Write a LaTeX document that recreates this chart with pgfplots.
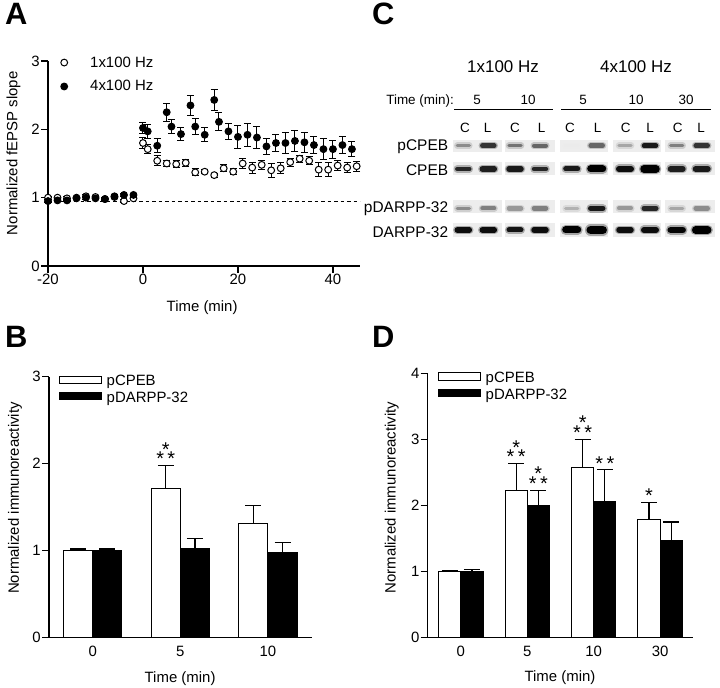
\documentclass[border=0pt]{standalone}
\usepackage{fontspec}
\setmainfont{Liberation Sans}
\usepackage{pgfplots}
\pgfplotsset{compat=1.18}
\newcommand\fs{\fontsize{15}{18}\selectfont}
\newcommand\starfont{\fontsize{20}{20}\selectfont}
\pgfplotsset{gp/.style={
  scale only axis, clip=false,
  axis x line*=bottom, axis y line*=left,
  axis line style={line width=1.2bp, -},
  every tick/.style={line width=1.2bp, black},
  tick align=outside, major tick length=7bp,
  /pgf/number format/assume math mode=true,
  tick label style={font=\fs, inner sep=1bp},
  label style={font=\fs},
}}
% blot band: x1 x2 y linewidth shade
\newcommand\band[5]{%
  \addplot[forget plot, line width=#4bp+3bp, line cap=round, draw=black!#5, opacity=0.3] coordinates {(#1,#3) (#2,#3)};
  \addplot[forget plot, line width=#4bp, line cap=round, draw=black!#5] coordinates {(#1,#3) (#2,#3)};}
\newcommand\strip[4]{%
  \addplot[forget plot, fill=black!7, draw=none] coordinates {(#1,#3) (#2,#3) (#2,#4) (#1,#4)};}
\newcommand\ctext[3]{\node[anchor=base, inner sep=0, font=\fontsize{13.5}{13.5}\selectfont] at (axis cs:#1,#2) {#3};}
% stars: x, baseline of lower row
\newcommand\twostars[2]{\node[anchor=south, align=center, inner sep=0, font=\starfont] at (axis cs:#1,#2) {*\\[-10.5bp]*\hspace{3.5bp}*};}
\newcommand\dstars[2]{\node[anchor=south, inner sep=0, font=\starfont] at (axis cs:#1,#2) {*\hspace{3.5bp}*};}
\newcommand\onestar[2]{\node[anchor=south, inner sep=0, font=\starfont] at (axis cs:#1,#2) {*};}
\pgfplotsset{errA/.style={error bars/.cd, y dir=both, y explicit, error bar style={line width=1bp, black},
  error mark options={rotate=90, line width=1bp, mark size=3.5bp, black}},
  errB/.style={error bars/.cd, y dir=plus, y explicit, error bar style={line width=1.2bp, black},
  error mark options={rotate=90, line width=1.2bp, mark size=8bp, black}}}
\begin{document}
\begin{tikzpicture}
\path[use as bounding box] (0,0) rectangle (720bp,688bp);
\node[anchor=base west, inner sep=0, font=\bfseries\fontsize{31}{31}\selectfont] at (5bp,663bp) {A};
\node[anchor=base west, inner sep=0, font=\bfseries\fontsize{31}{31}\selectfont] at (5bp,340.5bp) {B};
\node[anchor=base west, inner sep=0, font=\bfseries\fontsize{31}{31}\selectfont] at (372bp,663bp) {C};
\node[anchor=base west, inner sep=0, font=\bfseries\fontsize{31}{31}\selectfont] at (372bp,340.5bp) {D};

% ---------------- Panel A
\begin{axis}[gp, at={(48bp,422bp)}, anchor=south west, width=312bp, height=205bp,
  xmin=-20, xmax=45.7, ymin=0, ymax=3, xtick={-20,0,20,40}, ytick={0,1,2,3},
  xlabel={Time (min)}, ylabel={Normalized fEPSP slope},
  xlabel style={at={(axis description cs:0.494,-0.205)}, anchor=center},
  ylabel style={at={(axis description cs:-0.1106,0.55)}, anchor=center},
  legend style={at={(axis description cs:0.0353,0.934)}, anchor=west, draw=none, fill=none,
    inner sep=0pt, row sep=10bp, font=\fs, cells={anchor=west}, nodes={inner sep=1bp}},
  legend image code/.code={\draw[#1] plot coordinates {(0bp,0bp)}; \path[draw=none,fill=none] (-5bp,0bp) -- (25bp,0bp);},
]
\addplot[forget plot, black, line width=1bp, dash pattern=on 3.5bp off 3bp] coordinates {(-20,0.95) (45.7,0.95)};
\addplot[only marks, mark=*, mark size=3.4bp, mark options={fill=white, draw=black, line width=1bp}, errA]
  table[x=x, y=y, y error=e] {
x y e
-20 1.00 0.02
-18 1.00 0.02
-16 0.99 0.02
-14 1.00 0.02
-12 1.02 0.02
-10 1.01 0.02
-8 0.98 0.02
-6 1.01 0.02
-4 0.95 0.02
-2 0.99 0.02
0 1.80 0.08
1 1.71 0.07
3 1.54 0.07
5 1.50 0.05
7 1.49 0.05
9 1.51 0.05
11 1.37 0.05
13 1.38 0.03
15 1.33 0.03
17 1.43 0.05
19 1.38 0.04
21 1.50 0.07
23 1.44 0.08
25 1.48 0.07
27 1.40 0.10
29 1.43 0.08
31 1.52 0.06
33 1.57 0.05
35 1.54 0.06
37 1.41 0.10
39 1.41 0.10
41 1.47 0.07
43 1.44 0.07
45 1.46 0.07
};
\addlegendentry{1x100 Hz}
\addplot[only marks, mark=*, mark size=3.4bp, mark options={fill=black, draw=black, line width=1bp}, errA]
  table[x=x, y=y, y error=e] {
x y e
-20 0.95 0.02
-18 0.96 0.02
-16 0.96 0.02
-14 0.99 0.02
-12 1.00 0.02
-10 0.99 0.02
-8 0.98 0.02
-6 1.02 0.02
-4 1.04 0.02
-2 1.04 0.02
0 2.02 0.08
1 1.97 0.10
3 1.76 0.10
5 2.25 0.13
6 2.04 0.10
8 1.93 0.10
10 2.35 0.15
11 2.04 0.12
13 1.92 0.10
15 2.43 0.16
16 2.11 0.13
18 1.97 0.12
20 1.89 0.17
22 1.92 0.17
24 1.88 0.16
26 1.75 0.12
28 1.80 0.13
30 1.80 0.15
32 1.83 0.15
34 1.81 0.15
36 1.77 0.13
38 1.71 0.15
40 1.71 0.13
42 1.77 0.12
44 1.71 0.11
};
\addlegendentry{4x100 Hz}
\end{axis}

% ---------------- Panel B
\begin{axis}[gp, at={(49bp,50.3bp)}, anchor=south west, width=262.7bp, height=261bp,
  xmin=-0.5, xmax=2.5, ymin=0, ymax=3, xtick={0,1,2}, xticklabels={0,5,10}, ytick={0,1,2,3},
  xtick style={draw=none},
  xlabel={Time (min)}, ylabel={Normalized immunoreactivity},
  xlabel style={at={(axis description cs:0.499,-0.158)}, anchor=center},
  ylabel style={at={(axis description cs:-0.129,0.535)}, anchor=center},
  legend style={at={(axis description cs:0.0392,0.9506)}, anchor=west, draw=none, fill=none,
    inner sep=0pt, row sep=2.4bp, font=\fs, cells={anchor=west}, nodes={inner sep=1bp}},
  legend image code/.code={\draw[#1] (0bp,-2.1bp) rectangle (41.4bp,5.3bp); \path[draw=none,fill=none] (0bp,0bp) -- (45.7bp,0bp);},
]
\addplot[ybar, bar width=0.3333, bar shift=0pt, fill=white, draw=black, line width=1bp, errB]
  table[x=x, y=y, y error=e] {
x y e
-0.16667 1.00 0.02
0.83333 1.71 0.27
1.83333 1.31 0.21
};
\addlegendentry{pCPEB}
\addplot[ybar, bar width=0.3333, bar shift=0pt, fill=black, draw=black, line width=1bp, errB]
  table[x=x, y=y, y error=e] {
x y e
0.16667 1.00 0.02
1.16667 1.02 0.12
2.16667 0.98 0.11
};
\addlegendentry{pDARPP-32}
\twostars{0.83333}{1.973}
\end{axis}

% ---------------- Panel D
\begin{axis}[gp, at={(427.7bp,50.3bp)}, anchor=south west, width=265.6bp, height=264.4bp,
  xmin=-0.5, xmax=3.5, ymin=0, ymax=4, xtick={0,1,2,3}, xticklabels={0,5,10,30}, ytick={0,1,2,3,4},
  xtick style={draw=none},
  xlabel={Time (min)}, ylabel={Normalized immunoreactivity},
  xlabel style={at={(axis description cs:0.498,-0.1505)}, anchor=center},
  ylabel style={at={(axis description cs:-0.1355,0.530)}, anchor=center},
  legend style={at={(axis description cs:0.0377,0.9505)}, anchor=west, draw=none, fill=none,
    inner sep=0pt, row sep=2.4bp, font=\fs, cells={anchor=west}, nodes={inner sep=1bp}},
  legend image code/.code={\draw[#1] (0bp,-2.1bp) rectangle (42.3bp,5.3bp); \path[draw=none,fill=none] (0bp,0bp) -- (46.3bp,0bp);},
]
\addplot[ybar, bar width=0.3333, bar shift=0pt, fill=white, draw=black, line width=1bp, errB]
  table[x=x, y=y, y error=e] {
x y e
-0.16667 1.00 0.02
0.83333 2.23 0.40
1.83333 2.58 0.42
2.83333 1.79 0.25
};
\addlegendentry{pCPEB}
\addplot[ybar, bar width=0.3333, bar shift=0pt, fill=black, draw=black, line width=1bp, errB]
  table[x=x, y=y, y error=e] {
x y e
0.16667 1.00 0.03
1.16667 2.00 0.23
2.16667 2.06 0.48
3.16667 1.47 0.28
};
\addlegendentry{pDARPP-32}
\twostars{0.83333}{2.625}
\twostars{1.16667}{2.227}
\twostars{1.83333}{3.003}
\dstars{2.16667}{2.525}
\onestar{2.83333}{2.035}
\end{axis}

% ---------------- Panel C (blot)
\begin{axis}[at={(440bp,438bp)}, anchor=south west, scale only axis, width=280bp, height=210bp,
  xmin=440, xmax=720, ymin=40, ymax=250, y dir=reverse, hide axis, clip=false]
% strips
\strip{452.7}{501.7}{140}{151.7}\strip{505}{555}{140}{151.7}\strip{560}{608.3}{140}{151.7}\strip{612.7}{661}{140}{151.7}\strip{665}{715}{140}{151.7}
\strip{452.7}{501.7}{161.7}{175}\strip{505}{555}{161.7}{175}\strip{560}{608.3}{161.7}{175}\strip{612.7}{661}{161.7}{175}\strip{665}{715}{161.7}{175}
\strip{452.7}{501.7}{200}{213.3}\strip{505}{555}{200}{213.3}\strip{560}{608.3}{200}{213.3}\strip{612.7}{661}{200}{213.3}\strip{665}{715}{200}{213.3}
\strip{452.7}{501.7}{223.3}{236.7}\strip{505}{555}{223.3}{236.7}\strip{560}{608.3}{223.3}{236.7}\strip{612.7}{661}{223.3}{236.7}\strip{665}{715}{223.3}{236.7}
% pCPEB
\band{457.3}{469.3}{145.7}{3.5}{45}\band{482.3}{494.3}{145.7}{4.5}{80}
\band{509}{521}{145.7}{3.5}{55}\band{534}{546}{145.7}{4}{60}
\band{565.7}{577.7}{145.7}{3}{8}\band{590.7}{602.7}{145.7}{4.5}{60}
\band{619}{631}{145.7}{3.5}{35}\band{644}{656}{145.7}{4.5}{90}
\band{670.7}{682.7}{145.7}{3.5}{50}\band{695.7}{707.7}{145.7}{4.5}{80}
% CPEB
\band{457.3}{469.3}{169}{4.5}{85}\band{482.3}{494.3}{169}{5.5}{88}
\band{509}{521}{169}{5.5}{90}\band{534}{546}{169}{4.5}{85}
\band{565.7}{577.7}{169}{5}{90}\band{590.7}{602.7}{169}{7}{100}
\band{619}{631}{169}{6}{95}\band{644}{656}{169}{7.5}{100}
\band{670.7}{682.7}{169}{6}{88}\band{695.7}{707.7}{169}{6}{90}
% pDARPP-32
\band{457.3}{469.3}{208.3}{3.5}{45}\band{482.3}{494.3}{208.3}{4}{50}
\band{509}{521}{208.3}{4.5}{40}\band{534}{546}{208.3}{4.5}{50}
\band{565.7}{577.7}{208.3}{3.5}{30}\band{590.7}{602.7}{208.3}{5.5}{90}
\band{619}{631}{208.3}{4}{40}\band{644}{656}{208.3}{5}{85}
\band{670.7}{682.7}{208.3}{3.5}{35}\band{695.7}{707.7}{208.3}{4.5}{45}
% DARPP-32
\band{457.3}{469.3}{230}{5.5}{95}\band{482.3}{494.3}{230}{5.5}{95}
\band{509}{521}{230}{5}{92}\band{534}{546}{230}{5.5}{95}
\band{565.7}{577.7}{230}{7}{100}\band{590.7}{602.7}{230}{8.5}{100}
\band{619}{631}{230}{5.5}{95}\band{644}{656}{230}{6}{95}
\band{670.7}{682.7}{230}{6.5}{98}\band{695.7}{707.7}{230}{7.5}{100}
% underlines
\addplot[forget plot, black, line width=1bp] coordinates {(454.3,110) (552.7,110)};
\addplot[forget plot, black, line width=1bp] coordinates {(561.3,110) (710.7,110)};
% texts
\node[anchor=base, inner sep=0, font=\fontsize{17}{17}\selectfont] at (axis cs:503,72.7) {1x100 Hz};
\node[anchor=base, inner sep=0, font=\fontsize{17}{17}\selectfont] at (axis cs:636,72.7) {4x100 Hz};
\node[anchor=base east, inner sep=0, font=\fontsize{13.5}{13.5}\selectfont] at (axis cs:454,104.3) {Time (min):};
\ctext{477}{104.3}{5}\ctext{528}{104.3}{10}\ctext{583}{104.3}{5}\ctext{636}{104.3}{10}\ctext{686}{104.3}{30}
\ctext{465}{132.3}{C}\ctext{487.7}{132.3}{L}\ctext{515}{132.3}{C}\ctext{541.7}{132.3}{L}\ctext{570}{132.3}{C}
\ctext{597.7}{132.3}{L}\ctext{625.7}{132.3}{C}\ctext{650}{132.3}{L}\ctext{677.7}{132.3}{C}\ctext{701}{132.3}{L}
\node[anchor=base east, inner sep=0, font=\fontsize{15.5}{15.5}\selectfont] at (axis cs:448.3,150.7) {pCPEB};
\node[anchor=base east, inner sep=0, font=\fontsize{15.5}{15.5}\selectfont] at (axis cs:448.3,176) {CPEB};
\node[anchor=base east, inner sep=0, font=\fontsize{15.5}{15.5}\selectfont] at (axis cs:448.3,212.7) {pDARPP-32};
\node[anchor=base east, inner sep=0, font=\fontsize{15.5}{15.5}\selectfont] at (axis cs:448.3,237.7) {DARPP-32};
\end{axis}
\end{tikzpicture}
\end{document}
